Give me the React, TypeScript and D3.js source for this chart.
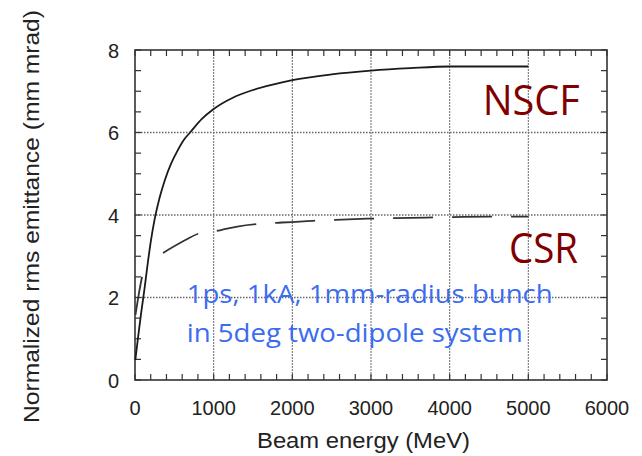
import React from 'react';
import * as d3 from 'd3';

const xTicks = [0, 1000, 2000, 3000, 4000, 5000, 6000];
const yTicks = [0, 2, 4, 6, 8];
const xGrid = [1000, 2000, 3000, 4000, 5000];
const yGrid = [2, 4, 6];

const nscfEnergy = [4, 40, 80, 120, 160, 200, 250, 310, 380, 460, 546, 620, 700, 850, 1000, 1250, 1500, 1750, 2000, 2500, 3000, 3500, 4000, 4500, 5000];
const nscfEmit = [0.48, 1.05, 1.65, 2.2, 2.8, 3.35, 3.9, 4.4, 4.85, 5.25, 5.58, 5.82, 6.0, 6.33, 6.57, 6.85, 7.03, 7.16, 7.27, 7.41, 7.5, 7.56, 7.6, 7.6, 7.6];

// CSR: short first dash at low energy, then the dashed run from ~356 MeV
const csrEarlyEnergy = [6, 50, 89];
const csrEarlyEmit = [1.58, 2.1, 2.5];
const csrEnergy = [356, 600, 826, 1080, 1300, 1550, 1800, 2260, 2520, 2950, 3500, 4000, 4500, 5000];
const csrEmit = [3.08, 3.35, 3.56, 3.63, 3.72, 3.78, 3.81, 3.86, 3.88, 3.91, 3.93, 3.95, 3.96, 3.96];

const xLabel = 'Beam energy (MeV)';
const yLabel = 'Normalized rms emittance (mm mrad)';
const nscfLabel = 'NSCF';
const csrLabel = 'CSR';
const noteLines = ['1ps, 1kA, 1mm-radius bunch', 'in 5deg two-dipole system'];

export default function App() {
  const x = d3.scaleLinear().domain([0, 6000]).range([135, 607]);
  const y = d3.scaleLinear().domain([0, 8]).range([380, 50]);
  const line = d3
    .line<[number, number]>()
    .x((d) => x(d[0]))
    .y((d) => y(d[1]))
    .curve(d3.curveMonotoneX);

  const nscf = nscfEnergy.map((e, i) => [e, nscfEmit[i]] as [number, number]);
  const csrEarly = csrEarlyEnergy.map((e, i) => [e, csrEarlyEmit[i]] as [number, number]);
  const csr = csrEnergy.map((e, i) => [e, csrEmit[i]] as [number, number]);

  const xMinor = d3.range(0, 6001, 200);
  const yMinor = d3.range(0, 8.01, 0.5);
  const axisColor = '#333';
  const tickLen = 6;
  const font = '"Liberation Sans", Arial, Helvetica, sans-serif';
  const calib = '"Open Sans", "Noto Sans", sans-serif';

  return (
    <svg
      width={642}
      height={456}
      style={{ position: 'absolute', left: 0, top: 0, background: '#fff' }}
    >
      <rect x={0} y={0} width={642} height={456} fill="#fff" />
      {yGrid.map((v) => (
        <line
          key={'gy' + v}
          x1={x(0)}
          x2={x(6000)}
          y1={y(v)}
          y2={y(v)}
          stroke="#666"
          strokeWidth={1.4}
          strokeDasharray="1.5,1.5"
        />
      ))}
      {xGrid.map((v) => (
        <line
          key={'gx' + v}
          x1={x(v)}
          x2={x(v)}
          y1={y(0)}
          y2={y(8)}
          stroke="#777"
          strokeWidth={1.1}
          strokeDasharray="2,1"
        />
      ))}
      {xMinor.map((v) => (
        <g key={'tx' + v}>
          <line x1={x(v)} x2={x(v)} y1={y(0)} y2={y(0) - tickLen} stroke={axisColor} strokeWidth={1.2} />
          <line x1={x(v)} x2={x(v)} y1={y(8)} y2={y(8) + tickLen} stroke={axisColor} strokeWidth={1.2} />
        </g>
      ))}
      {yMinor.map((v) => (
        <g key={'ty' + v}>
          <line x1={x(0)} x2={x(0) + tickLen} y1={y(v)} y2={y(v)} stroke={axisColor} strokeWidth={1.2} />
          <line x1={x(6000)} x2={x(6000) - tickLen} y1={y(v)} y2={y(v)} stroke={axisColor} strokeWidth={1.2} />
        </g>
      ))}
      <rect
        x={x(0)}
        y={y(8)}
        width={x(6000) - x(0)}
        height={y(0) - y(8)}
        fill="none"
        stroke={axisColor}
        strokeWidth={1.6}
      />
      <path d={line(nscf) || ''} fill="none" stroke="#1a1a1a" strokeWidth={1.8} />
      <path d={line(csrEarly) || ''} fill="none" stroke="#333" strokeWidth={1.8} />
      <path
        d={line(csr) || ''}
        fill="none"
        stroke="#333"
        strokeWidth={1.8}
        strokeDasharray="40,19"
      />
      {xTicks.map((v) => (
        <text
          key={'lx' + v}
          x={x(v)}
          y={415}
          textAnchor="middle"
          fontFamily={font}
          fontSize={20}
          fill="#222"
        >
          {v}
        </text>
      ))}
      {yTicks.map((v) => (
        <text
          key={'ly' + v}
          x={119}
          y={y(v) + 7.5}
          textAnchor="end"
          fontFamily={font}
          fontSize={20}
          fill="#222"
        >
          {v}
        </text>
      ))}
      <text
        x={257}
        y={448}
        fontFamily={font}
        fontSize={22}
        fill="#222"
        textLength={213}
        lengthAdjust="spacingAndGlyphs"
      >
        {xLabel}
      </text>
      <text
        transform="translate(38.5,423) rotate(-90)"
        x={0}
        y={0}
        fontFamily={font}
        fontSize={22}
        fill="#222"
        textLength={413}
        lengthAdjust="spacingAndGlyphs"
      >
        {yLabel}
      </text>
      <text
        x={482.7}
        y={115}
        fontFamily={calib}
        fontSize={42}
        fill="#800000"
        textLength={97}
        lengthAdjust="spacingAndGlyphs"
      >
        {nscfLabel}
      </text>
      <text
        x={509}
        y={263}
        fontFamily={calib}
        fontSize={42}
        fill="#800000"
        textLength={69}
        lengthAdjust="spacingAndGlyphs"
      >
        {csrLabel}
      </text>
      <text
        x={186.7}
        y={303.3}
        fontFamily={calib}
        fontSize={25}
        fill="#3b6cf0"
        textLength={366}
        lengthAdjust="spacingAndGlyphs"
      >
        {noteLines[0]}
      </text>
      <text
        x={186.7}
        y={341.7}
        fontFamily={calib}
        fontSize={25}
        fill="#3b6cf0"
        textLength={336}
        lengthAdjust="spacingAndGlyphs"
      >
        {noteLines[1]}
      </text>
    </svg>
  );
}
